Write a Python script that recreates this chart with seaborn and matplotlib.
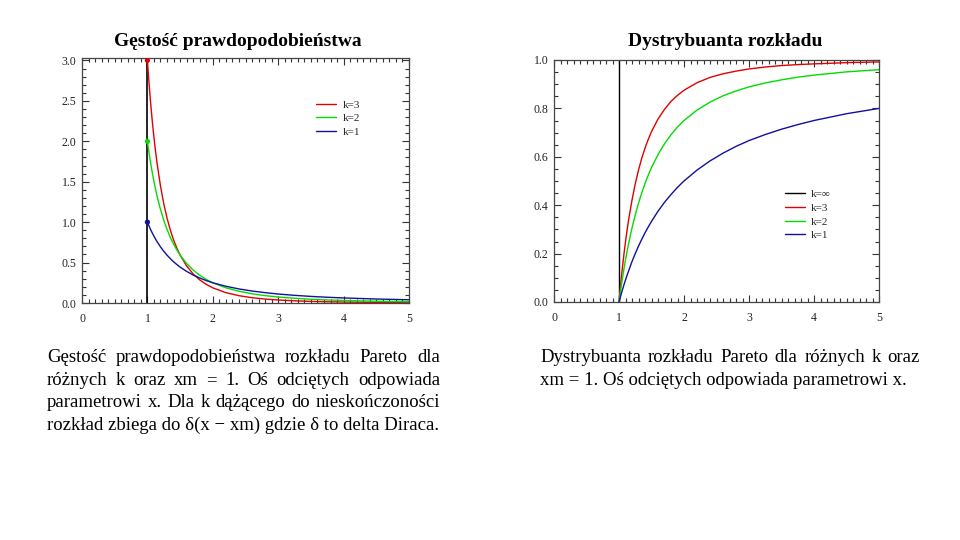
import matplotlib
matplotlib.use("Agg")
import matplotlib.pyplot as plt
import seaborn as sns
import pandas as pd
from matplotlib.ticker import MultipleLocator
from matplotlib.lines import Line2D

sns.set_theme(style="white")
plt.rcParams['font.family'] = ['Liberation Serif', 'DejaVu Serif']

# ---- data ----
x_vals = [1.0, 1.025, 1.05, 1.075, 1.1, 1.125, 1.15, 1.2, 1.25, 1.3, 1.35, 1.4,
          1.45, 1.5, 1.6, 1.7, 1.8, 1.9, 2.0, 2.2, 2.4, 2.6, 2.8, 3.0, 3.25,
          3.5, 3.75, 4.0, 4.5, 5.0]
pdf_k3 = [3.0, 2.718, 2.468, 2.246, 2.049, 1.873, 1.715, 1.447, 1.229, 1.050,
          0.903, 0.781, 0.679, 0.593, 0.458, 0.359, 0.286, 0.230, 0.1875,
          0.128, 0.0904, 0.0656, 0.0488, 0.0370, 0.0269, 0.0200, 0.0152,
          0.0117, 0.0073, 0.0048]
pdf_k2 = [2.0, 1.857, 1.728, 1.610, 1.503, 1.405, 1.315, 1.157, 1.024, 0.910,
          0.813, 0.729, 0.656, 0.593, 0.488, 0.407, 0.343, 0.292, 0.250,
          0.188, 0.145, 0.114, 0.0911, 0.0741, 0.0583, 0.0466, 0.0379,
          0.03125, 0.0219, 0.016]
pdf_k1 = [1.0, 0.952, 0.907, 0.865, 0.826, 0.790, 0.756, 0.694, 0.640, 0.592,
          0.549, 0.510, 0.476, 0.444, 0.391, 0.346, 0.309, 0.277, 0.250,
          0.207, 0.174, 0.148, 0.128, 0.111, 0.0947, 0.0816, 0.0711, 0.0625,
          0.0494, 0.040]
cdf_k3 = [0.0, 0.071, 0.136, 0.195, 0.249, 0.298, 0.343, 0.421, 0.488, 0.545,
          0.594, 0.636, 0.672, 0.704, 0.756, 0.796, 0.829, 0.854, 0.875,
          0.906, 0.928, 0.943, 0.954, 0.963, 0.971, 0.977, 0.981, 0.984,
          0.989, 0.992]
cdf_k2 = [0.0, 0.048, 0.093, 0.135, 0.174, 0.210, 0.244, 0.306, 0.360, 0.408,
          0.451, 0.490, 0.524, 0.556, 0.609, 0.654, 0.691, 0.723, 0.750,
          0.793, 0.826, 0.852, 0.872, 0.889, 0.905, 0.918, 0.929, 0.9375,
          0.951, 0.960]
cdf_k1 = [0.0, 0.024, 0.048, 0.070, 0.091, 0.111, 0.130, 0.167, 0.200, 0.231,
          0.259, 0.286, 0.310, 0.333, 0.375, 0.412, 0.444, 0.474, 0.500,
          0.545, 0.583, 0.615, 0.643, 0.667, 0.692, 0.714, 0.733, 0.750,
          0.778, 0.800]
pdf_start = [3.0, 2.0, 1.0]
series_labels = ["k=3", "k=2", "k=1"]
x_ticks = [0, 1, 2, 3, 4, 5]
pdf_ticks = [0.0, 0.5, 1.0, 1.5, 2.0, 2.5, 3.0]
cdf_ticks = [0.0, 0.2, 0.4, 0.6, 0.8, 1.0]

title_pdf = "Gęstość prawdopodobieństwa"
title_cdf = "Dystrybuanta rozkładu"
caption_pdf = [
    "Gęstość prawdopodobieństwa rozkładu Pareto dla",
    "różnych  k  oraz  xm = 1. Oś odciętych odpowiada",
    "parametrowi x. Dla k dążącego do nieskończoności",
    "rozkład zbiega do δ(x − xm) gdzie δ to delta Diraca.",
]
caption_cdf = [
    "Dystrybuanta rozkładu Pareto dla różnych k  oraz",
    "xm = 1. Oś odciętych odpowiada parametrowi x.",
]

colors = ["#e00000", "#00dd00", "#1010a0"]

W, H = 960, 540
fig = plt.figure(figsize=(9.6, 5.4), dpi=100)
fig.patch.set_facecolor("white")

def px_axes(l, t, r, b):
    return fig.add_axes([l / W, 1 - b / H, (r - l) / W, (b - t) / H])

ax1 = px_axes(82, 58, 409, 303)
ax2 = px_axes(554, 60, 879, 302)

n = len(x_vals)
klist = sum([[s] * n for s in series_labels], [])
pdf_df = pd.DataFrame({"x": x_vals * 3, "y": pdf_k3 + pdf_k2 + pdf_k1, "k": klist})
cdf_df = pd.DataFrame({"x": x_vals * 3, "y": cdf_k3 + cdf_k2 + cdf_k1, "k": klist})
pal = dict(zip(series_labels, colors))

# vertical k=inf line
ax1.axvline(1.0, color="black", lw=1.2, zorder=1)
ax2.plot([1.0, 1.0], [0.0, 1.0], color="black", lw=1.0, zorder=1)

sns.lineplot(data=pdf_df, x="x", y="y", hue="k", palette=pal, ax=ax1,
             legend=False, lw=1.0, zorder=2)
sns.lineplot(data=cdf_df, x="x", y="y", hue="k", palette=pal, ax=ax2,
             legend=False, lw=1.0, zorder=2)
sns.scatterplot(x=[1.0] * 3, y=pdf_start, hue=series_labels, palette=pal,
                ax=ax1, legend=False, s=14, edgecolor="none", zorder=3)

ax1.set_xlim(0, 5)
ax1.set_ylim(0, 3.03)
ax2.set_xlim(0, 5)
ax2.set_ylim(0, 1.0)

for ax, yt, ymin in [(ax1, pdf_ticks, 0.1), (ax2, cdf_ticks, 0.05)]:
    ax.set_xticks(x_ticks)
    ax.set_xticklabels([str(t) for t in x_ticks])
    ax.set_yticks(yt)
    ax.set_yticklabels([f"{t:.1f}" for t in yt])
    ax.xaxis.set_minor_locator(MultipleLocator(0.1))
    ax.yaxis.set_minor_locator(MultipleLocator(ymin))
    ax.tick_params(which="both", direction="in", top=True, right=True,
                   bottom=True, left=True, color="#333333", width=0.8)
    ax.tick_params(which="major", length=5, labelsize=8.5, pad=4,
                   labelcolor="#222222")
    ax.tick_params(which="minor", length=3)
    ax.tick_params(axis="x", pad=7)
    for sp in ax.spines.values():
        sp.set_color("#444444")
        sp.set_linewidth(0.9)
    ax.set_xlabel("")
    ax.set_ylabel("")
    ax.set_facecolor("white")

# legends
h1 = [Line2D([], [], color=c, lw=1.0) for c in colors]
ax1.legend(h1, series_labels, loc="upper left",
           bbox_to_anchor=(0.70, 0.852), frameon=False, fontsize=8,
           handlelength=1.8, handletextpad=0.6, labelspacing=0.35,
           borderpad=0)
h2 = [Line2D([], [], color="black", lw=1.0)] + h1
ax2.legend(h2, ["k=∞"] + series_labels, loc="upper left",
           bbox_to_anchor=(0.695, 0.488), frameon=False, fontsize=8,
           handlelength=1.8, handletextpad=0.5, labelspacing=0.35,
           borderpad=0)

# titles
fig.text(238 / W, 1 - 42 / H, title_pdf, ha="center", va="center",
         fontsize=14, fontweight="bold", color="black")
fig.text(725 / W, 1 - 42 / H, title_cdf, ha="center", va="center",
         fontsize=14, fontweight="bold", color="black")

# justified captions
fig.canvas.draw()
renderer = fig.canvas.get_renderer()

def draw_line(text, x0, x1, y, justify, fs=13.5):
    words = text.split()
    if not justify:
        fig.text(x0 / W, 1 - y / H, text, ha="left", va="center",
                 fontsize=fs, color="black")
        return
    objs = [fig.text(0, 1 - y / H, w, ha="left", va="center", fontsize=fs,
                     color="black") for w in words]
    widths = [o.get_window_extent(renderer).width for o in objs]
    gap = (x1 - x0 - sum(widths)) / max(len(words) - 1, 1)
    x = x0
    for o, w in zip(objs, widths):
        o.set_x(x / W)
        x += w + gap

y0 = 358
for i, line in enumerate(caption_pdf):
    draw_line(line, 47, 440, y0 + i * 22.3, justify=(i < 3))
for i, line in enumerate(caption_cdf):
    draw_line(line, 540, 920, y0 + i * 22.3, justify=(i < 1))

fig.savefig("out.png", dpi=100, facecolor="white")
